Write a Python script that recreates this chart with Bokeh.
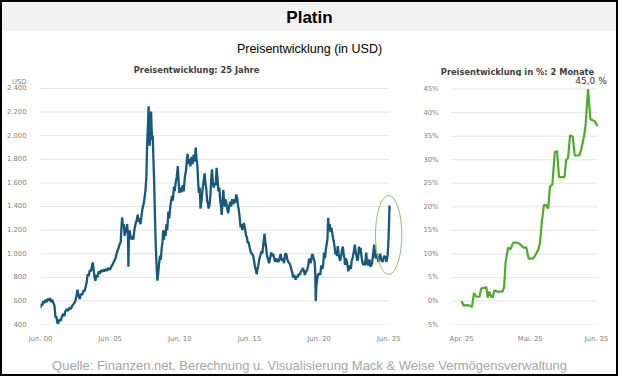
from bokeh.plotting import figure
from bokeh.models import Label, FixedTicker, Range1d
from bokeh.layouts import column, row
from bokeh.embed import file_html
from bokeh.resources import INLINE

# ---------------- data: 25 years platinum price (USD) ----------------
years = [
    2000.42, 2000.48, 2000.55, 2000.62, 2000.70, 2000.78, 2000.86, 2000.95,
    2001.02, 2001.10, 2001.18, 2001.26, 2001.34, 2001.42, 2001.50, 2001.56,
    2001.62, 2001.68, 2001.74, 2001.80, 2001.88, 2001.96, 2002.05, 2002.12,
    2002.20, 2002.30, 2002.40, 2002.50, 2002.60, 2002.70, 2002.80, 2002.90,
    2003.00, 2003.07, 2003.14, 2003.24, 2003.32, 2003.42, 2003.50, 2003.58,
    2003.66, 2003.74, 2003.80, 2003.88, 2003.96, 2004.04, 2004.12, 2004.17,
    2004.24, 2004.30, 2004.36, 2004.44, 2004.52, 2004.60, 2004.68, 2004.76,
    2004.84, 2004.92, 2005.00, 2005.10, 2005.20, 2005.30, 2005.40, 2005.50,
    2005.60, 2005.70, 2005.80, 2005.88, 2005.96, 2006.03, 2006.10, 2006.18,
    2006.24, 2006.28, 2006.34, 2006.40, 2006.46, 2006.52, 2006.58, 2006.64,
    2006.70, 2006.73, 2006.76, 2006.82, 2006.90, 2006.98, 2007.08, 2007.16,
    2007.24, 2007.32, 2007.40, 2007.46, 2007.52, 2007.60, 2007.68, 2007.74,
    2007.82, 2007.90, 2007.96, 2008.02, 2008.06, 2008.10, 2008.14, 2008.18,
    2008.22, 2008.26, 2008.30, 2008.36, 2008.40, 2008.44, 2008.48, 2008.53,
    2008.58, 2008.64, 2008.70, 2008.76, 2008.81, 2008.86, 2008.92, 2009.00,
    2009.06, 2009.12, 2009.18, 2009.23, 2009.28, 2009.34, 2009.40, 2009.46,
    2009.52, 2009.60, 2009.66, 2009.74, 2009.80, 2009.86, 2009.92, 2010.00,
    2010.06, 2010.12, 2010.20, 2010.28, 2010.34, 2010.39, 2010.46, 2010.54,
    2010.62, 2010.70, 2010.78, 2010.86, 2010.92, 2010.98, 2011.04, 2011.10,
    2011.18, 2011.26, 2011.34, 2011.42, 2011.50, 2011.56, 2011.62, 2011.68,
    2011.74, 2011.79, 2011.85, 2011.91, 2011.98, 2012.06, 2012.14, 2012.20,
    2012.26, 2012.32, 2012.38, 2012.44, 2012.49, 2012.56, 2012.62, 2012.68,
    2012.73, 2012.80, 2012.86, 2012.92, 2013.00, 2013.06, 2013.12, 2013.19,
    2013.26, 2013.32, 2013.38, 2013.43, 2013.48, 2013.54, 2013.60, 2013.66,
    2013.72, 2013.80, 2013.89, 2013.96, 2014.04, 2014.10, 2014.18, 2014.26,
    2014.34, 2014.40, 2014.47, 2014.54, 2014.60, 2014.68, 2014.74, 2014.78,
    2014.84, 2014.90, 2014.96, 2015.02, 2015.10, 2015.18, 2015.24, 2015.29,
    2015.36, 2015.44, 2015.52, 2015.60, 2015.68, 2015.74, 2015.80, 2015.86,
    2015.94, 2016.00, 2016.06, 2016.12, 2016.20, 2016.28, 2016.34, 2016.42,
    2016.50, 2016.56, 2016.62, 2016.68, 2016.74, 2016.82, 2016.90, 2016.98,
    2017.06, 2017.12, 2017.20, 2017.27, 2017.34, 2017.42, 2017.50, 2017.58,
    2017.66, 2017.74, 2017.82, 2017.90, 2017.98, 2018.06, 2018.12, 2018.20,
    2018.28, 2018.36, 2018.44, 2018.50, 2018.55, 2018.62, 2018.68, 2018.74,
    2018.80, 2018.88, 2018.96, 2019.04, 2019.12, 2019.20, 2019.25, 2019.32,
    2019.40, 2019.48, 2019.56, 2019.64, 2019.70, 2019.76, 2019.82, 2019.90,
    2019.95, 2020.02, 2020.10, 2020.14, 2020.18, 2020.22, 2020.28, 2020.34,
    2020.42, 2020.50, 2020.58, 2020.66, 2020.72, 2020.77, 2020.84, 2020.90,
    2020.96, 2021.02, 2021.07, 2021.12, 2021.18, 2021.24, 2021.30, 2021.36,
    2021.42, 2021.48, 2021.54, 2021.58, 2021.64, 2021.70, 2021.76, 2021.82,
    2021.88, 2021.94, 2022.00, 2022.06, 2022.12, 2022.18, 2022.24, 2022.28,
    2022.34, 2022.40, 2022.46, 2022.52, 2022.58, 2022.64, 2022.70, 2022.76,
    2022.82, 2022.88, 2022.94, 2022.98, 2023.04, 2023.10, 2023.16, 2023.22,
    2023.28, 2023.34, 2023.40, 2023.46, 2023.52, 2023.58, 2023.64, 2023.70,
    2023.76, 2023.80, 2023.86, 2023.92, 2023.98, 2024.04, 2024.10, 2024.16,
    2024.22, 2024.28, 2024.34, 2024.38, 2024.44, 2024.50, 2024.56, 2024.62,
    2024.68, 2024.74, 2024.80, 2024.86, 2024.92, 2024.98, 2025.04, 2025.10,
    2025.16, 2025.20, 2025.24, 2025.30, 2025.34, 2025.38, 2025.41, 2025.43,
    2025.45, 2025.47, 2025.48,
]
prices = [
    540, 575, 560, 600, 580, 610, 590, 620,
    600, 625, 590, 610, 585, 560, 455, 470,
    420, 405, 430, 445, 430, 470, 490, 470,
    510, 530, 515, 545, 530, 560, 575, 590,
    640, 695, 650, 615, 660, 650, 690, 680,
    720, 760, 825, 810, 860, 850, 900, 926,
    860, 800, 771, 820, 800, 851, 830, 860,
    845, 865, 850, 870, 855, 880, 864, 890,
    910, 935, 960, 1000, 1030, 1050, 1080, 1100,
    1240, 1308, 1230, 1250, 1150, 1223, 1180, 1250,
    1150, 890, 1130, 1197, 1120, 1150, 1120, 1200,
    1250, 1280, 1330, 1270, 1300, 1250, 1330, 1380,
    1420, 1480, 1545, 1650, 1860, 2000, 2100, 2250,
    2050, 1914, 2000, 2205, 2050, 1967, 2000, 1781,
    1600, 1303, 1050, 880, 771, 820, 900, 984,
    950, 1050, 1100, 1197, 1117, 1200, 1150, 1250,
    1200, 1356, 1300, 1400, 1450, 1489, 1450, 1568,
    1530, 1600, 1650, 1741, 1600, 1515, 1560, 1520,
    1580, 1528, 1650, 1700, 1780, 1847, 1760, 1800,
    1740, 1820, 1760, 1840, 1780, 1900, 1800, 1750,
    1600, 1515, 1560, 1382, 1450, 1550, 1621, 1680,
    1600, 1550, 1450, 1420, 1382, 1420, 1500, 1640,
    1715, 1600, 1560, 1600, 1580, 1727, 1650, 1528,
    1560, 1450, 1400, 1329, 1420, 1542, 1450, 1400,
    1460, 1400, 1342, 1400, 1440, 1400, 1462, 1420,
    1460, 1430, 1502, 1470, 1409, 1350, 1280, 1223,
    1250, 1200, 1230, 1260, 1210, 1150, 1140, 1090,
    1100, 1050, 1010, 1000, 984, 950, 900, 870,
    825, 870, 900, 950, 984, 1020, 1000, 1080,
    1170, 1100, 1050, 984, 960, 920, 960, 1010,
    980, 1000, 960, 931, 960, 940, 930, 960,
    997, 940, 960, 920, 997, 1000, 960, 931,
    920, 900, 860, 840, 798, 820, 800, 780,
    811, 800, 830, 820, 850, 860, 878, 860,
    820, 850, 860, 900, 958, 940, 920, 984,
    997, 960, 930, 850, 599, 720, 780, 825,
    830, 820, 900, 870, 920, 1010, 960, 1030,
    1080, 1120, 1303, 1200, 1250, 1183, 1220, 1180,
    1130, 1100, 1050, 997, 1010, 980, 1064, 1000,
    960, 940, 980, 1030, 1060, 1000, 960, 904,
    960, 940, 900, 851, 880, 900, 870, 940,
    960, 1000, 1040, 1077, 1020, 980, 940, 960,
    1060, 1000, 1050, 980, 930, 904, 930, 900,
    960, 1010, 920, 900, 940, 950, 891, 900,
    920, 980, 1040, 1077, 980, 960, 1000, 960,
    931, 960, 1000, 960, 940, 930, 960, 984,
    960, 980, 931, 960, 990, 1064, 1150, 1223,
    1300, 1409, 1370,
]
usd_ticks = [400, 600, 800, 1000, 1200, 1400, 1600, 1800, 2000, 2200, 2400]
usd_tick_labels = ["400", "600", "800", "1.000", "1.200", "1.400", "1.600",
                   "1.800", "2.000", "2.200", "2.400"]
usd_unit = "USD"
year_ticks = [2000.42, 2005.42, 2010.42, 2015.42, 2020.42, 2025.42]
year_tick_labels = ["Jun. 00", "Jun. 05", "Jun. 10", "Jun. 15", "Jun. 20", "Jun. 25"]

# ---------------- data: 2 months change in % ----------------
days = [0, 0.9, 2.2, 3.7, 4.7, 5.6, 6.6, 8.1, 8.9, 10.6, 11.2, 11.8, 12.5,
        13.3, 14.0, 14.8, 15.9, 18.5, 19.2, 19.9, 21.0, 22.1, 23.3, 25.1,
        26.6, 28.0, 29.2, 30.3, 32.2, 33.2, 34.7, 35.4, 36.2, 37.2, 38.4,
        39.1, 39.9, 41.0, 42.1, 43.1, 44.0, 46.5, 47.2, 48.1, 49.0, 50.2,
        51.1, 53.1, 53.9, 55.4, 56.1, 57.1, 58.2, 60.1, 61.4]
pct = [0, -1.0, -0.9, -1.0, -1.3, 1.7, 0.9, 0.9, 2.7, 2.8, 3.0, 0.7, 2.0,
       1.0, 0.7, 2.3, 2.0, 2.0, 3.0, 8.3, 11.3, 11.0, 12.4, 12.4,
       12.0, 11.3, 11.4, 9.0, 9.0, 9.6, 11.0, 12.3, 16.6, 20.4, 20.3,
       19.6, 24.3, 24.7, 31.6, 31.9, 26.3, 26.3, 29.9, 30.4, 35.2, 34.9,
       30.9, 30.9, 31.9, 35.2, 37.9, 45.0, 38.6, 38.2, 37.2]
pct_ticks = [-5, 0, 5, 10, 15, 20, 25, 30, 35, 40, 45]
pct_tick_labels = ["-5%", "0%", "5%", "10%", "15%", "20%", "25%", "30%",
                   "35%", "40%", "45%"]
day_ticks = [0, 31, 61]
day_tick_labels = ["Apr. 25", "Mai. 25", "Jun. 25"]

# highlight ellipse around the recent spike
HL_X, HL_Y, HL_W, HL_H = 2025.41, 1159, 1.89, 669

BLUE = "#17597c"
GREEN = "#4eab2c"
GRID = "#e4e4e4"
TICKC = "#7f7f7f"
TICKFONT = "DejaVu Sans"
SANS = "Liberation Sans"

W_ALL, H_ALL = 618, 376
IN_W = W_ALL - 4
TITLES_H = 19
ROW_H = 269
BOT_PAD = 16          # px for the x-axis below each frame
L_W, R_W = 418, 196   # widths of the two chart figures
L_PAD, R_PAD = 12.2, 12.9   # px from frame top down to top gridline
USD_UP = 6.7                # px of the unit label above the top gridline
X2_START, X2_END = -5, 66.8


def extended_top(lo, hi, frame_px, pad_px):
    # range end so that `hi` sits pad_px below the top of the frame
    return (hi * frame_px - lo * pad_px) / (frame_px - pad_px)


def style_axes(p, ystand):
    for ax in (p.xaxis[0], p.yaxis[0]):
        ax.axis_line_color = None
        ax.major_tick_line_color = None
        ax.minor_tick_line_color = None
        ax.major_label_text_font = TICKFONT
        ax.major_label_text_font_size = "6.8px"
        ax.major_label_text_color = TICKC
    p.xaxis.major_label_standoff = 4
    p.yaxis.major_label_standoff = ystand
    p.outline_line_color = None
    p.background_fill_color = "white"
    p.border_fill_color = "white"
    p.xgrid.visible = False
    p.ygrid.visible = False


def strip(w, h, bg, labels=()):
    s = figure(width=w, height=h, x_range=Range1d(0, w), y_range=Range1d(0, h),
               x_axis_type=None, y_axis_type=None, min_border=0,
               toolbar_location=None, output_backend="svg", title=None)
    s.outline_line_color = None
    s.background_fill_color = bg
    s.border_fill_color = bg
    s.xgrid.visible = False
    s.ygrid.visible = False
    for (x, from_top, text, font, size, style, color) in labels:
        s.add_layout(Label(x=x, y=h - from_top, text=text, text_align="center",
                           text_baseline="middle", text_font=font,
                           text_font_size=size, text_font_style=style,
                           text_color=color))
    return s


# ---------------- left chart ----------------
f1 = ROW_H - BOT_PAD
y1_top = extended_top(usd_ticks[0], usd_ticks[-1], f1, L_PAD)
usd_pos = usd_ticks[-1] + USD_UP * (y1_top - usd_ticks[0]) / f1
p1 = figure(width=L_W, height=ROW_H, x_range=Range1d(2000.42, 2026.55),
            y_range=Range1d(usd_ticks[0], y1_top),
            output_backend="svg", toolbar_location=None,
            min_border_left=38, min_border_right=16, min_border_top=0,
            min_border_bottom=BOT_PAD, title=None)
style_axes(p1, 8)
p1.xaxis.ticker = FixedTicker(ticks=year_ticks)
p1.xaxis.major_label_overrides = dict(zip(year_ticks, year_tick_labels))
p1.yaxis.ticker = FixedTicker(ticks=usd_ticks + [usd_pos])
p1.yaxis.major_label_overrides = dict(zip(usd_ticks + [usd_pos],
                                          usd_tick_labels + [usd_unit]))
n1 = len(usd_ticks)
p1.segment(x0=[years[0]] * n1, y0=usd_ticks, x1=[years[-1]] * n1, y1=usd_ticks,
           line_color=GRID, line_width=1)
p1.line(years, prices, line_color=BLUE, line_width=2.3)
p1.ellipse(x=[HL_X], y=[HL_Y], width=[HL_W], height=[HL_H],
           fill_color=None, line_color="#8cc46a", line_width=1)

# ---------------- right chart ----------------
f2 = ROW_H - BOT_PAD
p2 = figure(width=R_W, height=ROW_H, x_range=Range1d(X2_START, X2_END),
            y_range=Range1d(pct_ticks[0],
                            extended_top(pct_ticks[0], pct_ticks[-1], f2, R_PAD)),
            output_backend="svg", toolbar_location=None,
            min_border_left=30, min_border_right=7, min_border_top=0,
            min_border_bottom=BOT_PAD, title=None)
style_axes(p2, 6)
p2.xaxis.ticker = FixedTicker(ticks=day_ticks)
p2.xaxis.major_label_overrides = dict(zip(day_ticks, day_tick_labels))
p2.yaxis.ticker = FixedTicker(ticks=pct_ticks)
p2.yaxis.major_label_overrides = dict(zip(pct_ticks, pct_tick_labels))
n2 = len(pct_ticks)
p2.segment(x0=[X2_START] * n2, y0=pct_ticks, x1=[days[-1]] * n2, y1=pct_ticks,
           line_color=GRID, line_width=1)
p2.line(days, pct, line_color=GREEN, line_width=2.2)
peak_i = pct.index(max(pct))
p2.add_layout(Label(x=days[peak_i], y=pct[peak_i], x_offset=3, y_offset=3,
                    text=("%.1f %%" % pct[peak_i]).replace(".", ","),
                    text_align="center", text_baseline="bottom",
                    text_font=TICKFONT, text_font_size="9px",
                    text_color="#333333"))

# ---------------- frame pieces ----------------
header = strip(IN_W, 29, "#f2f2f2", [
    (IN_W / 2, 15, "Platin", SANS, "17px", "bold", "black")])
sep = strip(IN_W, 2, "black")
subtitle = strip(IN_W, 24, "white", [
    (IN_W / 2, 15, "Preisentwicklung (in USD)", SANS, "12.5px", "normal", "black")])
titles = strip(IN_W, TITLES_H, "white", [
    (194, 12, "Preisentwicklung: 25 Jahre", TICKFONT, "8.3px", "bold", "#404040"),
    (515, 14, "Preisentwicklung in %: 2 Monate", TICKFONT, "8.3px", "bold", "#404040"),
])
footer = strip(IN_W, 29, "white", [
    (IN_W / 2, 20,
     "Quelle: Finanzen.net, Berechnung u. Visualisierung Mack & Weise Vermögensverwaltung",
     SANS, "13px", "normal", "#a6a6a6")])

layout = column(header, sep, subtitle, titles, row(p1, p2), footer,
                width=W_ALL, height=H_ALL,
                styles={"border": "2px solid black", "box-sizing": "border-box",
                        "background-color": "white"})

open("out.html", "w").write(file_html(layout, INLINE))
